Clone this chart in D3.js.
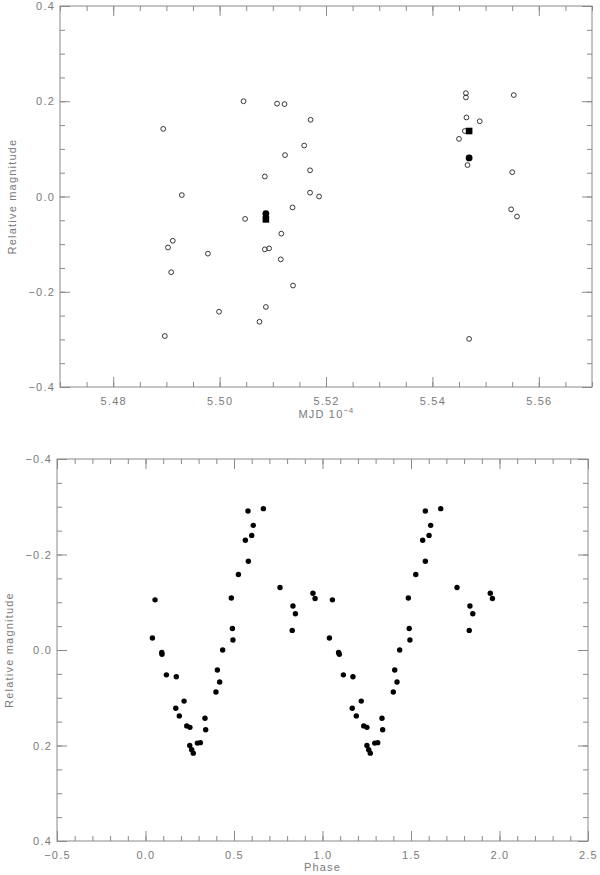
<!DOCTYPE html>
<html>
<head>
<meta charset="utf-8">
<script src="https://cdn.jsdelivr.net/npm/d3@7"></script>
<style>
  html, body { margin: 0; padding: 0; background: #fff; }
  svg { display: block; }
  .lbl { font-family: "Liberation Sans", Arial, sans-serif; font-size: 11px; fill: #7a7a7a; letter-spacing: 1.2px; }
  .tick text { font-family: "Liberation Sans", Arial, sans-serif; font-size: 11px; fill: #7a7a7a; letter-spacing: 1.2px; }
  .tick line { stroke: #8a8a8a; stroke-width: 1; }
  .domain { display: none; }
</style>
</head>
<body>
<svg id="chart" width="600" height="875"></svg>
<script>
// ---------------- Data ----------------
// Top panel: individual observations (open circles)
const mjdTop = [5.4894, 5.4929, 5.5045, 5.5108, 5.5122, 5.5123, 5.5085, 5.5048, 5.5137, 5.4912,
                5.4903, 5.4978, 5.5085, 5.5093, 5.5116, 5.5115, 5.4909, 5.5138, 5.4999, 5.5087,
                5.5075, 5.4897, 5.5171, 5.5159, 5.5170, 5.5170, 5.5187, 5.5463, 5.5463, 5.5553,
                5.5464, 5.5489, 5.5461, 5.5450, 5.5466, 5.5550, 5.5548, 5.5559, 5.5469];
const magTop = [0.142, 0.003, 0.200, 0.195, 0.194, 0.087, 0.042, -0.047, -0.023, -0.093,
                -0.107, -0.120, -0.111, -0.109, -0.078, -0.132, -0.159, -0.187, -0.242, -0.232,
                -0.263, -0.293, 0.161, 0.107, 0.055, 0.008, 0.000, 0.217, 0.208, 0.213,
                0.166, 0.158, 0.1375, 0.121, 0.066, 0.051, -0.027, -0.042, -0.299];
// Top panel: filled circles and filled squares
const circleMJD = [5.5087, 5.5469];
const circleMag = [-0.036, 0.081];
const squareMJD = [5.5087, 5.5469];
const squareMag = [-0.048, 0.1375];

// Bottom panel: phase-folded light curve (two cycles)
const phase = [0.039, 0.054, 0.092, 0.093, 0.118, 0.174, 0.171, 0.191, 0.218, 0.233,
               0.251, 0.250, 0.261, 0.270, 0.293, 0.310, 0.336, 0.340, 0.398, 0.406,
               0.419, 0.436, 0.485, 0.491, 0.494, 0.525, 0.564, 0.579, 0.581, 0.600,
               0.609, 0.666, 0.760, 0.833, 0.829, 0.847, 0.946, 0.958,
               1.039, 1.056, 1.091, 1.095, 1.118, 1.172, 1.168, 1.191, 1.219, 1.233,
               1.251, 1.251, 1.261, 1.270, 1.295, 1.312, 1.336, 1.340, 1.400, 1.408,
               1.421, 1.436, 1.485, 1.490, 1.494, 1.527, 1.566, 1.581, 1.581, 1.602,
               1.611, 1.668, 1.760, 1.833, 1.829, 1.849, 1.948, 1.960];
const magPhase = [-0.025, -0.105, 0.005, 0.009, 0.052, 0.056, 0.122, 0.138, 0.107, 0.159,
                  0.162, 0.200, 0.209, 0.216, 0.195, 0.194, 0.143, 0.167, 0.088, 0.042,
                  0.067, 0.000, -0.109, -0.045, -0.021, -0.158, -0.230, -0.291, -0.186, -0.240,
                  -0.261, -0.296, -0.131, -0.092, -0.041, -0.076, -0.119, -0.108,
                  -0.025, -0.105, 0.005, 0.009, 0.052, 0.056, 0.122, 0.138, 0.107, 0.159,
                  0.162, 0.200, 0.209, 0.216, 0.195, 0.194, 0.143, 0.167, 0.088, 0.042,
                  0.067, 0.000, -0.109, -0.045, -0.021, -0.158, -0.230, -0.291, -0.186, -0.240,
                  -0.261, -0.296, -0.131, -0.092, -0.041, -0.076, -0.119, -0.108];

// Tick values
const topXMajor = [5.48, 5.50, 5.52, 5.54, 5.56];
const topXMinor = d3.range(0, 21).map(i => +(5.47 + i * 0.005).toFixed(3));
const magMajor = [-0.4, -0.2, 0.0, 0.2, 0.4];
const magMinor = d3.range(0, 17).map(i => +(-0.4 + i * 0.05).toFixed(2));
const phaseMajor = [-0.5, 0.0, 0.5, 1.0, 1.5, 2.0, 2.5];
const phaseMinor = d3.range(0, 31).map(i => +(-0.5 + i * 0.1).toFixed(1));

// ---------------- Drawing ----------------
const svg = d3.select("#chart");
const fmtMag = v => (v < 0 ? "\u2212" : "") + Math.abs(v).toFixed(1);
const MAJ = 10, MIN = 5;

function frame(g, x, y, xMajor, xMinor, yMajor, yMinor, xFmt, b) {
  const [l, r, t, bt] = b;
  // bottom
  g.append("g").attr("transform", `translate(0,${bt})`)
    .call(d3.axisBottom(x).tickValues(xMinor).tickSize(-MIN).tickFormat(""));
  g.append("g").attr("transform", `translate(0,${bt})`)
    .call(d3.axisBottom(x).tickValues(xMajor).tickSize(-MAJ).tickPadding(10).tickFormat(xFmt));
  // top
  g.append("g").attr("transform", `translate(0,${t})`)
    .call(d3.axisTop(x).tickValues(xMinor).tickSize(-MIN).tickFormat(""));
  g.append("g").attr("transform", `translate(0,${t})`)
    .call(d3.axisTop(x).tickValues(xMajor).tickSize(-MAJ).tickFormat(""));
  // left
  g.append("g").attr("transform", `translate(${l},0)`)
    .call(d3.axisLeft(y).tickValues(yMinor).tickSize(-MIN).tickFormat(""));
  g.append("g").attr("transform", `translate(${l},0)`)
    .call(d3.axisLeft(y).tickValues(yMajor).tickSize(-MAJ).tickPadding(5).tickFormat(fmtMag));
  // right
  g.append("g").attr("transform", `translate(${r},0)`)
    .call(d3.axisRight(y).tickValues(yMinor).tickSize(-MIN).tickFormat(""));
  g.append("g").attr("transform", `translate(${r},0)`)
    .call(d3.axisRight(y).tickValues(yMajor).tickSize(-MAJ).tickFormat(""));
  g.selectAll(".tick text").attr("letter-spacing", "1.2px");
  g.append("rect").attr("x", l).attr("y", t).attr("width", r - l).attr("height", bt - t)
    .attr("fill", "none").attr("stroke", "#8a8a8a").attr("stroke-width", 1);
}

// ---- Top panel ----
const T = { l: 60, r: 592, t: 6, b: 387 };
const xT = d3.scaleLinear().domain([5.47, 5.57]).range([T.l, T.r]);
const yT = d3.scaleLinear().domain([-0.4, 0.4]).range([T.b, T.t]);
const gT = svg.append("g");
frame(gT, xT, yT, topXMajor, topXMinor, magMajor, magMinor, d3.format(".2f"), [T.l, T.r, T.t, T.b]);

gT.append("g").selectAll("circle").data(d3.range(mjdTop.length)).join("circle")
  .attr("cx", i => xT(mjdTop[i])).attr("cy", i => yT(magTop[i])).attr("r", 2.4)
  .attr("fill", "none").attr("stroke", "#222").attr("stroke-width", 0.9);
gT.append("g").selectAll("rect").data(d3.range(squareMJD.length)).join("rect")
  .attr("x", i => xT(squareMJD[i]) - 3.3).attr("y", i => yT(squareMag[i]) - 3.3)
  .attr("width", 6.6).attr("height", 6.6).attr("fill", "#000");
gT.append("g").selectAll("circle").data(d3.range(circleMJD.length)).join("circle")
  .attr("cx", i => xT(circleMJD[i])).attr("cy", i => yT(circleMag[i])).attr("r", 3.4)
  .attr("fill", "#000");

gT.append("text").attr("class", "lbl")
  .attr("transform", `translate(16,${(T.t + T.b) / 2}) rotate(-90)`)
  .attr("text-anchor", "middle").text("Relative magnitude");
const mjdLbl = gT.append("text").attr("class", "lbl")
  .attr("x", (T.l + T.r) / 2).attr("y", T.b + 31).attr("text-anchor", "middle");
mjdLbl.append("tspan").text("MJD 10");
mjdLbl.append("tspan").attr("dy", -5).attr("font-size", "8px").attr("letter-spacing", "0.5px").text("\u22124");

// ---- Bottom panel ----
const B = { l: 57, r: 588, t: 459, b: 841 };
const xB = d3.scaleLinear().domain([-0.5, 2.5]).range([B.l, B.r]);
const yB = d3.scaleLinear().domain([-0.4, 0.4]).range([B.t, B.b]);
const gB = svg.append("g");
frame(gB, xB, yB, phaseMajor, phaseMinor, magMajor, magMinor, d3.format(".1f"), [B.l, B.r, B.t, B.b]);

gB.append("g").selectAll("circle").data(d3.range(phase.length)).join("circle")
  .attr("cx", i => xB(phase[i])).attr("cy", i => yB(magPhase[i])).attr("r", 2.7)
  .attr("fill", "#000");

gB.append("text").attr("class", "lbl")
  .attr("transform", `translate(13,${(B.t + B.b) / 2}) rotate(-90)`)
  .attr("text-anchor", "middle").text("Relative magnitude");
gB.append("text").attr("class", "lbl")
  .attr("x", (B.l + B.r) / 2).attr("y", B.b + 30).attr("text-anchor", "middle").text("Phase");
</script>
</body>
</html>
